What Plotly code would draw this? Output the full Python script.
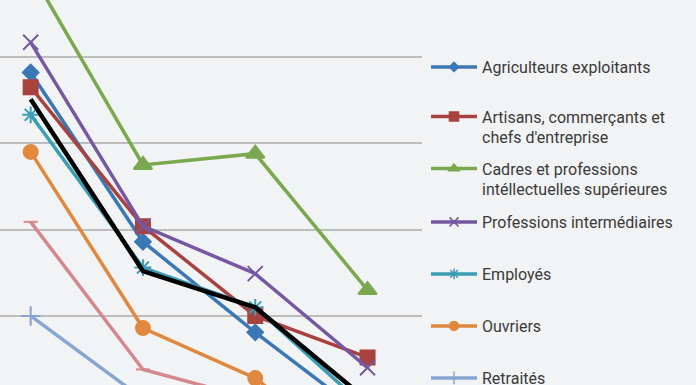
import plotly.graph_objects as go

# ---- data (the chart is cropped, off-picture values estimated) ----
positions = [0, 1, 2, 3]
series_names = [
    "Agriculteurs exploitants",
    "Artisans, commerçants et<br>chefs d'entreprise",
    "Cadres et professions<br>intéllectuelles supérieures",
    "Professions intermédiaires",
    "Employés",
    "Ouvriers",
    "Retraités",
    "Autres personnes sans activité professionnelle",
    "Ensemble",
]
agriculteurs = [48.2, 28.6, 18.1, 8.2]
artisans = [46.5, 30.4, 20.0, 15.2]
cadres = [59.9, 37.5, 38.8, 23.0]
prof_inter = [51.7, 30.4, 24.9, 14.0]
employes = [43.3, 25.6, 21.0, 9.2]
ouvriers = [39.0, 18.6, 12.8, 2.5]
retraites = [20.0, 10.4, 8.0, 5.0]
autres = [30.9, 13.8, 10.3, 7.0]
ensemble = [45.1, 25.2, 21.0, 10.2]
values = [agriculteurs, artisans, cadres, prof_inter, employes, ouvriers, retraites, autres, ensemble]

colors = ["#3a78b5", "#a8423f", "#7aa84f", "#7558a0", "#3b9db3", "#e0883e", "#86a5d0", "#d4888e", "#000000"]
symbols = ["diamond", "square", "triangle-up", "x-thin-open", "asterisk-open", "circle",
           "cross-thin-open", "line-ew-open", None]
sizes = [12, 14, 16, 15, 14, 14, 14, 10, 0]
legend_sizes = [7, 9, 9, 9, 9, 9, 9, 7, 0]
widths = [3.5, 3.5, 3.5, 3.5, 3.5, 3.5, 3.5, 3.5, 4.5]
in_legend = [True, True, True, True, True, True, True, False, False]
legend_centers_px = [67, 127, 179, 222, 274, 326, 378]

W, H = 696, 385

fig = go.Figure()
for i, (name, vals) in enumerate(zip(series_names, values)):
    marker = dict(color=colors[i], size=sizes[i], line=dict(color=colors[i], width=2))
    mode = "lines+markers"
    if symbols[i] is None:
        mode = "lines"
    else:
        marker["symbol"] = symbols[i]
    fig.add_trace(go.Scatter(
        x=positions, y=vals, name=name, mode=mode,
        line=dict(color=colors[i], width=widths[i]),
        marker=marker, showlegend=False, cliponaxis=True,
    ))

# legend-only entries (smaller symbols, like the reference)
li = 0
for i, name in enumerate(series_names):
    if not in_legend[i]:
        continue
    lg = "legend" if li == 0 else f"legend{li + 1}"
    fig.add_trace(go.Scatter(
        x=[None], y=[None], name=name, mode="lines+markers",
        line=dict(color=colors[i], width=3.5),
        marker=dict(color=colors[i], symbol=symbols[i], size=legend_sizes[i],
                    line=dict(color=colors[i], width=1.5)),
        legend=lg, showlegend=True,
    ))
    li += 1

legend_common = dict(
    x=426 / W, xanchor="left", yanchor="middle",
    bgcolor="rgba(0,0,0,0)", borderwidth=0,
    font=dict(family="Roboto", size=16, color="#3a3a3a"),
    itemwidth=46, valign="top",
)
layout_legends = {}
for k, cy in enumerate(legend_centers_px):
    key = "legend" if k == 0 else f"legend{k + 1}"
    layout_legends[key] = dict(legend_common, y=1 - cy / H)

fig.update_layout(
    width=W, height=H,
    margin=dict(l=0, r=0, t=0, b=0, autoexpand=False),
    paper_bgcolor="#f2f3f5", plot_bgcolor="#f2f3f5",
    xaxis=dict(domain=[0, 422 / W], range=[-0.273, 3.485], showgrid=False,
               showticklabels=False, zeroline=False, showline=False, ticks=""),
    yaxis=dict(range=[12.0, 56.6], tick0=0, dtick=10, showgrid=True,
               gridcolor="#bdbdbd", gridwidth=1.5, showticklabels=False,
               zeroline=False, showline=False, ticks=""),
    **layout_legends,
)

fig.write_html(
    "out.html",
    config={"displayModeBar": False},
    post_script="document.body.style.margin='0';document.body.style.background='#f2f3f5';"
                "document.body.style.overflow='hidden';",
)
